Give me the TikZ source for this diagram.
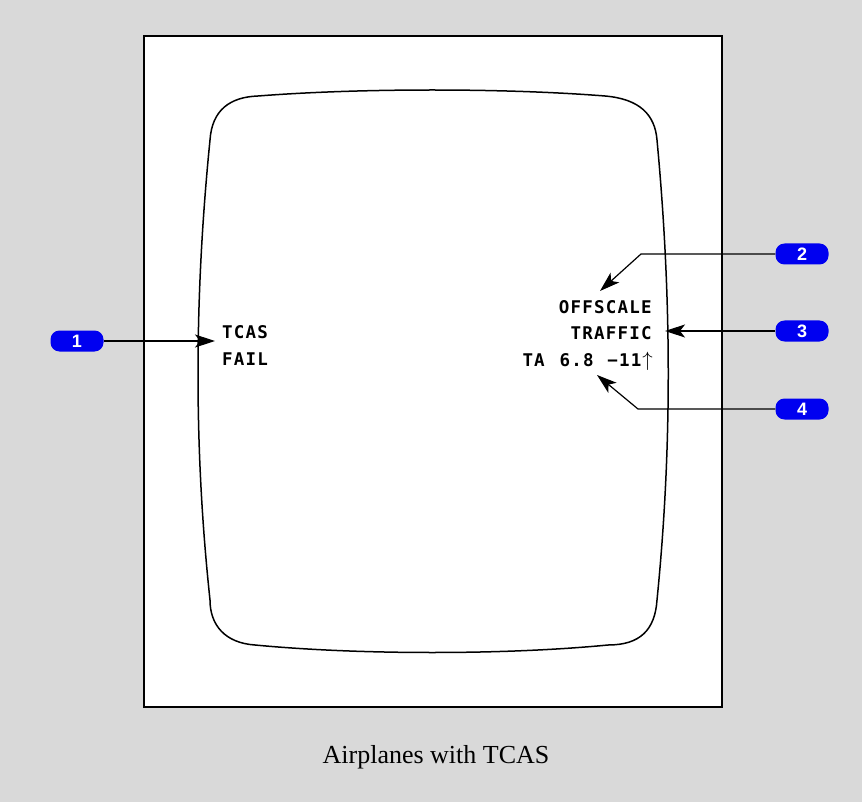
\documentclass[tikz,border=0pt]{standalone}
\usepackage{fontspec}
\setmainfont{Liberation Serif}
\newfontfamily\dispfont[LetterSpace=7]{DejaVu Sans Mono}
\newfontfamily\calloutfont{Liberation Sans}
\usetikzlibrary{arrows.meta}
\definecolor{panelgrey}{RGB}{217,217,217}
\definecolor{calloutblue}{RGB}{0,0,240}

\begin{document}
\begin{tikzpicture}[x=1pt,y=-1pt,
  disp/.style={font=\dispfont\bfseries\fontsize{17.5}{20}\selectfont,inner sep=0pt},
  callout/.style={fill=calloutblue,text=white,rounded corners=9pt,
    minimum width=53pt,minimum height=21pt,inner sep=0pt,
    font=\calloutfont\bfseries\fontsize{18}{18}\selectfont},
  arr/.style={-{Stealth[length=20pt,width=13pt,inset=5pt]},line width=1.2pt}]
\fill[panelgrey] (0,0) rectangle (862,802);
\draw[fill=white,line width=1.5pt] (144,36) rectangle (722,707);
% display outline
\draw[line width=1.5pt] (258,96) .. controls (360,88) and (505,88) .. (605,96)
  .. controls (640,99) and (655,115) .. (657,140)
  .. controls (672,300) and (672,450) .. (657,600)
  .. controls (655,630) and (640,645) .. (608,645)
  .. controls (505,655) and (360,655) .. (255,645)
  .. controls (225,643) and (210,625) .. (210,600)
  .. controls (194,450) and (194,300) .. (210,140)
  .. controls (212,110) and (230,97) .. (258,96) -- cycle;
% messages
\node[disp,anchor=base west] (tcas) at (222,338) {TCAS};
\node[disp,anchor=base west] (fail) at (222,365) {FAIL};
\node[disp,anchor=base east] (offscale) at (652,313) {OFFSCALE};
\node[disp,anchor=base east] (traffic) at (652,339) {TRAFFIC};
\node[disp,anchor=base east] (tarow) at (653,366) {TA\kern3pt{} 6.8\kern2pt{} −11\kern1pt{\fontsize{20}{20}\selectfont$\uparrow$}};
% callouts
\node[callout] (c1) at (77,341) {1};
\node[callout] (c2) at (802,254) {2};
\node[callout] (c3) at (802,331) {3};
\node[callout] (c4) at (802,409) {4};
\coordinate (tip1) at (215,341);
\coordinate (bend2) at (641,254);
\coordinate (tip2) at (600,291);
\coordinate (tip3) at (665,331);
\coordinate (bend4) at (638,409);
\coordinate (tip4) at (597,375);
\draw[arr] (c1) -- (tip1);
\draw[arr] (c2.west) -- (bend2) -- (tip2);
\draw[arr] (c3) -- (tip3);
\draw[arr] (c4.west) -- (bend4) -- (tip4);
\node[anchor=base,font=\fontsize{26}{30}\selectfont] (caption) at (436,763) {Airplanes with TCAS};
\end{tikzpicture}
\end{document}
